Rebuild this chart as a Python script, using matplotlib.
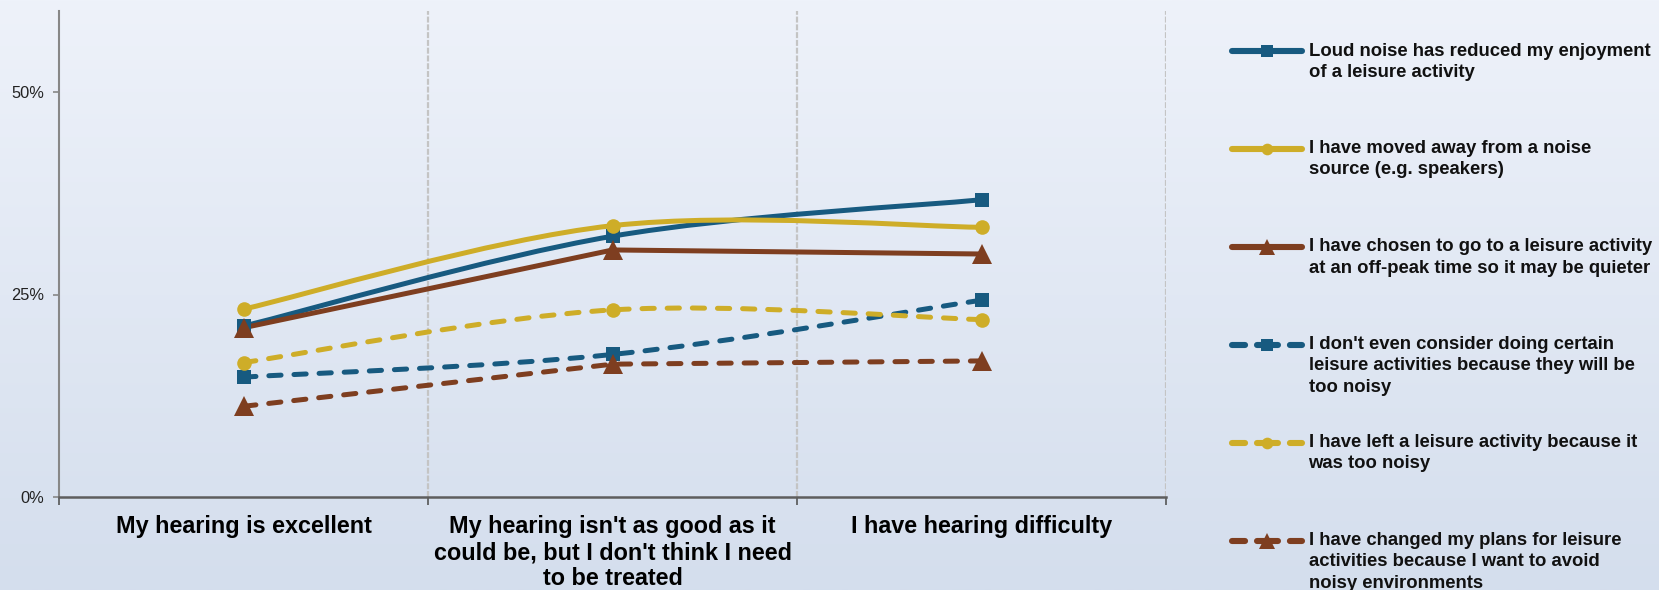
import numpy as np
import matplotlib
matplotlib.use("Agg")
import matplotlib.pyplot as plt
from matplotlib.lines import Line2D
from matplotlib.path import Path
from matplotlib.patches import PathPatch
from matplotlib.ticker import FixedLocator, FuncFormatter

plt.rcParams['font.family'] = ['Liberation Sans', 'DejaVu Sans']
plt.rcParams['lines.scale_dashes'] = False

# ---------------- data ----------------
categories = ["My hearing is excellent",
              "My hearing isn't as good as it\ncould be, but I don't think I need\nto be treated",
              "I have hearing difficulty"]

series_labels = [
    "Loud noise has reduced my enjoyment\nof a leisure activity",
    "I have moved away from a noise\nsource (e.g. speakers)",
    "I have chosen to go to a leisure activity\nat an off-peak time so it may be quieter",
    "I don't even consider doing certain\nleisure activities because they will be\ntoo noisy",
    "I have left a leisure activity because it\nwas too noisy",
    "I have changed my plans for leisure\nactivities because I want to avoid\nnoisy environments",
]

loud_noise_reduced = [0.211, 0.322, 0.367]
moved_away = [0.232, 0.335, 0.333]
off_peak = [0.209, 0.305, 0.300]
dont_consider = [0.148, 0.176, 0.243]
left_activity = [0.166, 0.231, 0.219]
changed_plans = [0.112, 0.164, 0.168]

series_values = [loud_noise_reduced, moved_away, off_peak,
                 dont_consider, left_activity, changed_plans]

y_ticks = [0.0, 0.25, 0.5]
y_tick_labels = ["0%", "25%", "50%"]

# ---------------- styles ----------------
BLUE = "#175A80"
GOLD = "#CEAD28"
BROWN = "#7E3E20"
colors = [BLUE, GOLD, BROWN, BLUE, GOLD, BROWN]
markers = ["s", "o", "^", "s", "o", "^"]
msizes = [10.5, 10.5, 14.5, 10.5, 10.5, 14.5]
dashed = [False, False, False, True, True, True]
smoothed = [True, True, False, True, True, False]

W, H = 1659, 590
fig = plt.figure(figsize=(W / 100, H / 100), dpi=100)

# background gradient
bg = fig.add_axes([0, 0, 1, 1], zorder=-10)
grad = np.linspace(0, 1, 256).reshape(-1, 1)
top = np.array([238, 242, 250]) / 255
bot = np.array([212, 222, 237]) / 255
img = top[None, None, :] * (1 - grad[:, :, None]) + bot[None, None, :] * grad[:, :, None]
bg.imshow(img, aspect='auto', extent=[0, 1, 0, 1])
bg.set_axis_off()

ax = fig.add_axes([59.3 / W, 1 - 497 / H, (1166 - 59.3) / W, (497 - 11) / H])
ax.set_facecolor("none")
ax.set_xlim(-0.5, 2.5)
ax.set_ylim(0, 0.60)


def line_path(xs, ys, smooth):
    """Straight polyline, or Excel-like smoothed line (cubic Bezier, Catmull-Rom controls)."""
    pts = np.column_stack([xs, ys]).astype(float)
    n = len(pts)
    if not smooth:
        return Path(pts, [Path.MOVETO] + [Path.LINETO] * (n - 1))
    verts = [pts[0]]
    codes = [Path.MOVETO]
    for i in range(n - 1):
        p0 = pts[i - 1] if i > 0 else pts[i]
        p1 = pts[i]
        p2 = pts[i + 1]
        p3 = pts[i + 2] if i + 2 < n else pts[i + 1]
        c1 = p1 + (p2 - p0) / 6.0
        c2 = p2 - (p3 - p1) / 6.0
        verts += [c1, c2, p2]
        codes += [Path.CURVE4] * 3
    return Path(verts, codes)


LW = 3.6
chart_dash = (0, (8.8, 9.3))
xs = np.arange(len(categories))
for vals, c, m, ms, d, sm in zip(series_values, colors, markers, msizes, dashed, smoothed):
    path = line_path(xs, vals, sm)
    patch = PathPatch(path, facecolor="none", edgecolor=c, lw=LW,
                      capstyle="round", joinstyle="round",
                      linestyle=chart_dash if d else "solid", zorder=3)
    ax.add_patch(patch)
    ax.plot(xs, vals, linestyle="none", marker=m, markersize=ms,
            color=c, markeredgewidth=0, zorder=4)

# grid (vertical dashed at category boundaries)
for b in [0.5, 1.5, 2.5]:
    ax.axvline(b, color="#C4C4C4", lw=1.6, linestyle=(0, (4.3, 1.3)), zorder=1)

# spines
for s in ["top", "right"]:
    ax.spines[s].set_visible(False)
ax.spines["left"].set_color("#878787")
ax.spines["left"].set_linewidth(1.5)
ax.spines["bottom"].set_color("#5E5E5E")
ax.spines["bottom"].set_linewidth(1.8)

ax.set_yticks(y_ticks)
ax.set_yticklabels(y_tick_labels)
ax.tick_params(axis="y", length=4, width=1.2, color="#878787", pad=7,
               labelsize=11.8, labelcolor="#222222")

ax.xaxis.set_major_locator(FixedLocator([-0.5, 0.5, 1.5, 2.5]))
ax.xaxis.set_major_formatter(FuncFormatter(lambda v, p: ""))
ax.xaxis.set_minor_locator(FixedLocator(list(xs)))
ax.set_xticklabels(categories, minor=True, fontweight="bold", fontsize=16.8,
                   ha="center", va="top", linespacing=1.17)
ax.tick_params(axis="x", which="major", length=6, width=1.2, color="#555555")
ax.tick_params(axis="x", which="minor", length=0, pad=13)

# ---------------- legend ----------------
LEG_FS = 13.3
legend_dash = [9.4, 8.6, 15.1, 8.6, 9.4, 60]
legend_y = [51, 148.7, 247, 344.7, 442.7, 540.7]
for lab, c, m, ms, d, yy in zip(series_labels, colors, markers, msizes, dashed, legend_y):
    h = Line2D([], [], color=c, lw=4.4, marker=m, markersize=ms * 0.8,
               markeredgewidth=0, solid_capstyle="round", dash_capstyle="round")
    if d:
        h.set_dashes(legend_dash)
    nlines = lab.count("\n") + 1
    padded = "\n" * (nlines - 1) + lab
    leg = fig.legend(handles=[h], labels=[padded], loc="center left",
                     bbox_to_anchor=(1231.5 / W, 1 - yy / H),
                     frameon=False, numpoints=1, handlelength=3.84,
                     handletextpad=0.33, borderpad=0, borderaxespad=0,
                     prop={"weight": "bold", "size": LEG_FS})
    for t in leg.get_texts():
        t.set_color("#111111")
        t.set_linespacing(1.33)

fig.savefig("out.png", dpi=100)
